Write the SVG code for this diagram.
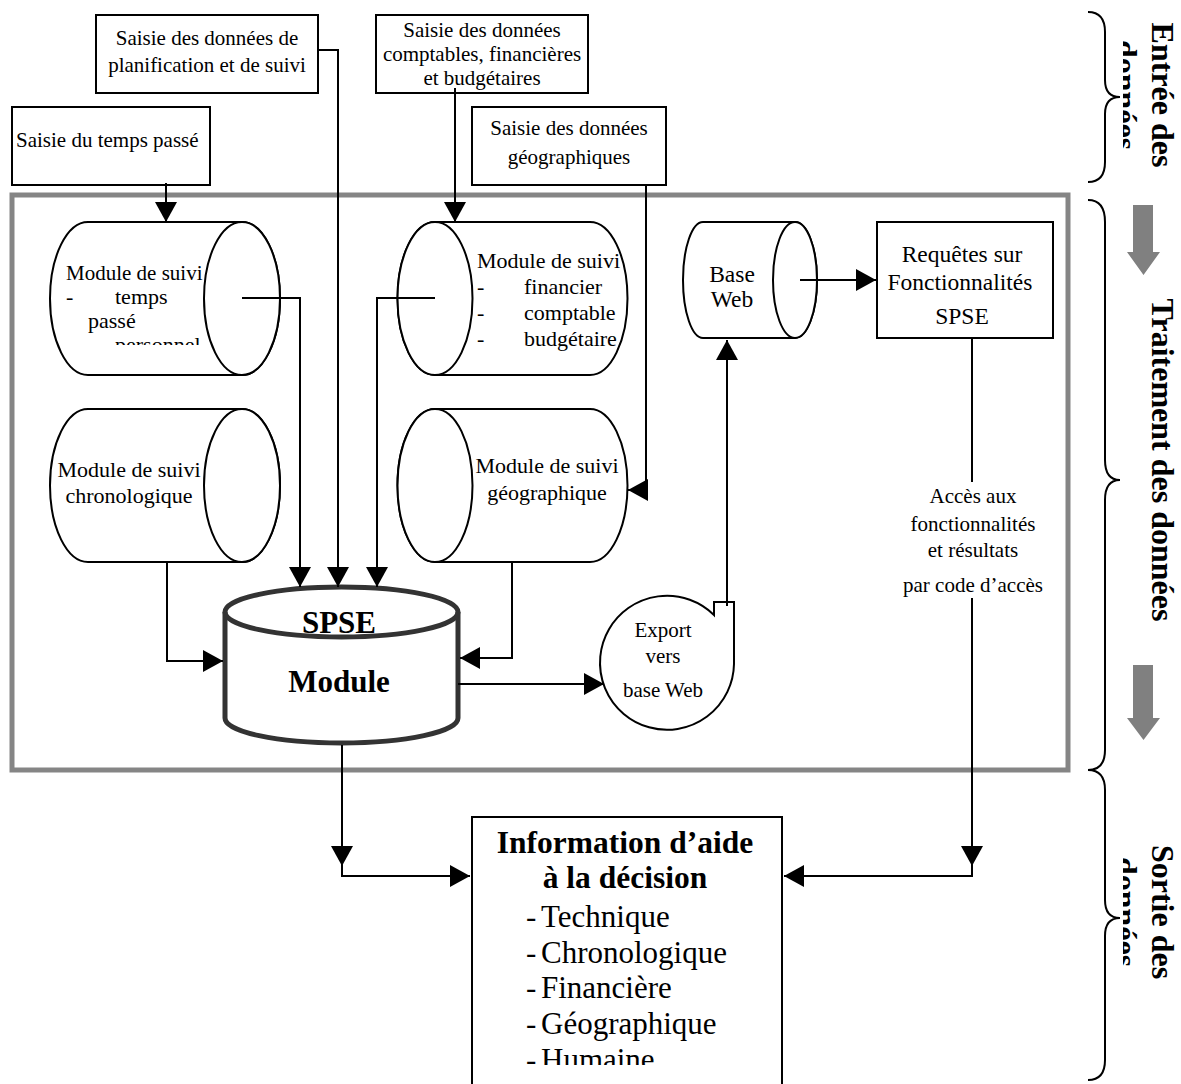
<svg xmlns="http://www.w3.org/2000/svg" width="1181" height="1084" viewBox="0 0 1181 1084">
<defs>
<marker id="ah" markerUnits="userSpaceOnUse" markerWidth="22" markerHeight="22" refX="20" refY="11" orient="auto">
<path d="M0,0 L20,11 L0,22 Z" fill="#000"/>
</marker>
<clipPath id="clipCyl1"><rect x="0" y="0" width="400" height="345"/></clipPath>
<clipPath id="clipInfo"><rect x="472" y="800" width="320" height="265"/></clipPath>
<clipPath id="clipSide"><rect x="1123" y="0" width="58" height="1084"/></clipPath>
</defs>
<style>
text{font-family:"Liberation Serif","Times New Roman",serif;fill:#000}
.t{font-size:21px}
.m{font-size:22px}
.l{font-size:23.5px}
.c{text-anchor:middle}
.b{font-weight:bold}
.box{fill:#fff;stroke:#000;stroke-width:2}
.shape{fill:#fff;stroke:#000;stroke-width:2}
.conn{fill:none;stroke:#000;stroke-width:2}
.arr{marker-end:url(#ah)}
.side{font-size:32px;font-weight:bold;text-anchor:middle}
.brace{fill:none;stroke:#000;stroke-width:2}
</style>
<rect width="1181" height="1084" fill="#fff"/>

<!-- frame -->
<rect id="frame" x="12" y="195" width="1056" height="575" fill="none" stroke="#858585" stroke-width="5"/>

<!-- input boxes -->
<g id="n-planif">
<rect class="box" x="96" y="15" width="222" height="78"/>
<text class="t c" x="207" y="45">Saisie des données de</text>
<text class="t c" x="207" y="72">planification et de suivi</text>
</g>
<g id="n-temps">
<rect class="box" x="12" y="107" width="198" height="78"/>
<text class="t" x="16" y="147" font-size="21.5">Saisie du temps passé</text>
</g>
<g id="n-compta">
<rect class="box" x="376" y="15" width="212" height="78"/>
<text class="t c" x="482" y="37">Saisie des données</text>
<text class="t c" x="482" y="61">comptables, financières</text>
<text class="t c" x="482" y="85">et budgétaires</text>
</g>
<g id="n-geo">
<rect class="box" x="472" y="107" width="194" height="78"/>
<text class="t c" x="569" y="135">Saisie des données</text>
<text class="t c" x="569" y="164">géographiques</text>
</g>

<!-- cylinders -->
<g id="n-cyl-temps">
<path class="shape" d="M88,222 H242 A38,76.5 0 0 1 242,375 H88 A38,76.5 0 0 1 88,222 Z"/>
<ellipse class="shape" cx="242" cy="298.5" rx="38" ry="76.5"/>
<g clip-path="url(#clipCyl1)">
<text class="t" x="66" y="280">Module de suivi</text>
<text class="m" x="66" y="304">-</text>
<text class="m" x="115" y="304">temps</text>
<text class="m" x="88" y="328">passé</text>
<text class="m" x="115" y="352">personnel</text>
</g>
</g>
<g id="n-cyl-fin">
<path class="shape" d="M435,222 H590 A37.5,76.5 0 0 1 590,375 H435 A37.5,76.5 0 0 1 435,222 Z"/>
<ellipse class="shape" cx="435" cy="298.5" rx="37.5" ry="76.5"/>
<text class="m" x="477" y="268">Module de suivi</text>
<text class="m" x="477" y="294">-</text>
<text class="m" x="524" y="294">financier</text>
<text class="m" x="477" y="320">-</text>
<text class="m" x="524" y="320">comptable</text>
<text class="m" x="477" y="346">-</text>
<text class="m" x="524" y="346">budgétaire</text>
</g>
<g id="n-cyl-chrono">
<path class="shape" d="M88,409 H242 A38,76.5 0 0 1 242,562 H88 A38,76.5 0 0 1 88,409 Z"/>
<ellipse class="shape" cx="242" cy="485.5" rx="38" ry="76.5"/>
<text class="m c" x="129" y="477">Module de suivi</text>
<text class="m c" x="129" y="503">chronologique</text>
</g>
<g id="n-cyl-geo">
<path class="shape" d="M435,409 H590 A37.5,76.5 0 0 1 590,562 H435 A37.5,76.5 0 0 1 435,409 Z"/>
<ellipse class="shape" cx="435" cy="485.5" rx="37.5" ry="76.5"/>
<text class="m c" x="547" y="473">Module de suivi</text>
<text class="m c" x="547" y="500">géographique</text>
</g>
<g id="n-baseweb">
<path class="shape" d="M703,222 H795 A22,58 0 0 1 795,338 H703 A20,58 0 0 1 703,222 Z"/>
<ellipse class="shape" cx="795" cy="280" rx="22" ry="58"/>
<text class="l c" x="732" y="282">Base</text>
<text class="l c" x="732" y="307">Web</text>
</g>
<g id="n-requetes">
<rect class="box" x="877" y="222" width="176" height="116"/>
<text class="l c" x="962" y="262">Requêtes sur</text>
<text class="l c" x="960" y="290">Fonctionnalités</text>
<text class="l c" x="962" y="324">SPSE</text>
</g>

<!-- SPSE module -->
<g id="n-spse">
<path d="M225,612 A116.5,25 0 0 1 458,612 V718 A116.5,25 0 0 1 225,718 Z" fill="#fff" stroke="#333" stroke-width="5"/>
<path d="M225,612 A116.5,25 0 0 0 458,612" fill="none" stroke="#333" stroke-width="5"/>
<text class="c b" x="339" y="633" font-size="31">SPSE</text>
<text class="c b" x="339" y="692" font-size="31">Module</text>
</g>

<!-- Export -->
<g id="n-export">
<path class="shape" d="M714,615 A67,67 0 1 0 734,664 V602 H714 Z"/>
<text class="t c" x="663" y="637">Export</text>
<text class="t c" x="663" y="663">vers</text>
<text class="t c" x="663" y="697">base Web</text>
</g>

<!-- Info -->
<g id="n-info">
<rect class="box" x="472" y="817" width="310" height="290"/>
<text class="c b" x="625" y="853" font-size="31.5">Information d’aide</text>
<text class="c b" x="625" y="888" font-size="31.5">à la décision</text>
<g clip-path="url(#clipInfo)" font-size="31">
<text x="526" y="927">-</text><text x="541" y="927">Technique</text>
<text x="526" y="963">-</text><text x="541" y="963">Chronologique</text>
<text x="526" y="998">-</text><text x="541" y="998">Financière</text>
<text x="526" y="1034">-</text><text x="541" y="1034">Géographique</text>
<text x="526" y="1070">-</text><text x="541" y="1070">Humaine</text>
</g>
</g>

<!-- access label -->
<g id="n-acces">
<text class="t c" x="973" y="503">Accès aux</text>
<text class="t c" x="973" y="531">fonctionnalités</text>
<text class="t c" x="973" y="557">et résultats</text>
<text class="t c" x="973" y="592">par code d’accès</text>
</g>

<!-- connectors -->
<g id="connectors">
<path class="conn arr" d="M166,183 V222"/>
<path class="conn arr" d="M318,50 H338 V587"/>
<path class="conn arr" d="M455,88 V222"/>
<path class="conn arr" d="M646,185 V490 H628"/>
<path class="conn arr" d="M242,298 H300 V587"/>
<path class="conn arr" d="M435,298 H377 V587"/>
<path class="conn arr" d="M167,562 V661 H223"/>
<path class="conn arr" d="M512,562 V658 H460"/>
<path class="conn arr" d="M458,684 H604"/>
<path class="conn arr" d="M727,606 V340"/>
<path class="conn arr" d="M800,280 H876"/>
<path class="conn" d="M972,338 V482"/>
<path class="conn arr" d="M972,598 V866"/>
<path class="conn arr" d="M972,866 V876 H784"/>
<path class="conn arr" d="M342,745 V866"/>
<path class="conn arr" d="M342,866 V876 H470"/>
</g>

<!-- side braces and labels -->
<g id="side">
<path class="brace" d="M1088,12 Q1105,12 1105,32 V80 Q1105,97 1120,97 Q1105,97 1105,114 V162 Q1105,182 1088,182"/>
<path class="brace" d="M1088,200 Q1105,200 1105,222 V460 Q1105,480 1120,480 Q1105,480 1105,500 V750 Q1105,770 1088,770"/>
<path class="brace" d="M1088,770 Q1105,770 1105,790 V900 Q1105,918 1120,918 Q1105,918 1105,936 V1060 Q1105,1080 1088,1080"/>
<polygon points="1133,205 1153,205 1153,252 1160,252 1143.5,275 1127,252 1133,252" fill="#808080"/>
<polygon points="1133,665 1153,665 1153,718 1160,718 1143.5,740 1127,718 1133,718" fill="#808080"/>
<text class="side" transform="translate(1152,95) rotate(90)">Entrée des</text>
<text class="side" transform="translate(1152,460) rotate(90)">Traitement des données</text>
<text class="side" transform="translate(1152,912) rotate(90)">Sortie des</text>
<g clip-path="url(#clipSide)">
<text class="side" transform="translate(1115,95) rotate(90)">données</text>
<text class="side" transform="translate(1115,912) rotate(90)">données</text>
</g>
</g>
</svg>
